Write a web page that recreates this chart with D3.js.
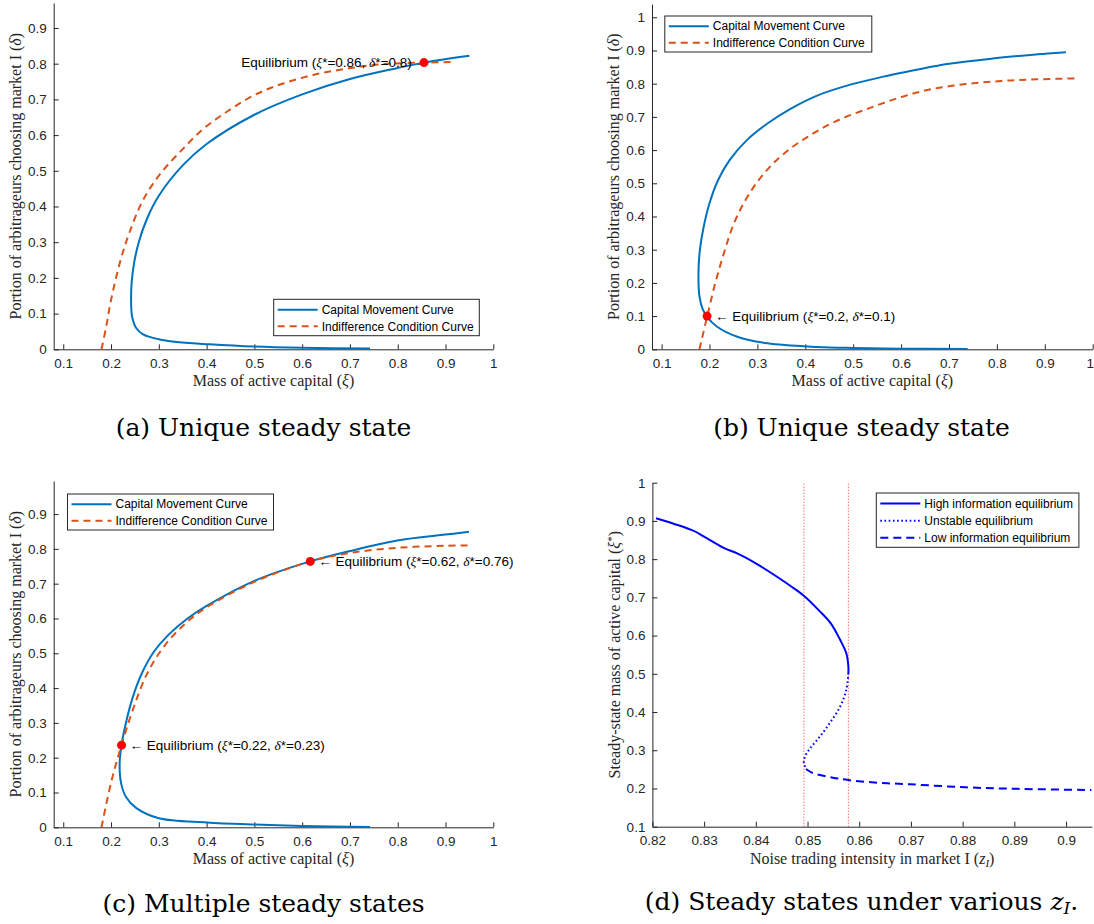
<!DOCTYPE html>
<html>
<head>
<meta charset="UTF-8">
<title>steady states</title>
<script src="https://cdn.jsdelivr.net/npm/d3@7"></script>
<style>
  body { margin: 0; background: #fff; }
  svg { display: block; }
  .axis path, .axis line { stroke: #262626; }
  .axis .tick text { font-family: "Liberation Sans", Arial, sans-serif; font-size: 13.5px; fill: #262626; }
  .lab { font-family: "Liberation Serif", serif; font-size: 16px; fill: #262626; }
  .cap { font-family: "DejaVu Serif", serif; font-size: 25px; fill: #000; }
  .leg { font-family: "Liberation Sans", Arial, sans-serif; font-size: 12px; fill: #000; }
  .ann { font-family: "Liberation Sans", Arial, sans-serif; font-size: 13.5px; fill: #000; }
  .it { font-family: "Liberation Serif", serif; font-style: italic; }
</style>
</head>
<body>
<svg width="1094" height="924"></svg>
<script>
// ---- data ----
var xiTicks = [0.1, 0.2, 0.3, 0.4, 0.5, 0.6, 0.7, 0.8, 0.9, 1];
var deltaTicks = [0, 0.1, 0.2, 0.3, 0.4, 0.5, 0.6, 0.7, 0.8, 0.9];
var deltaTicksB = [0, 0.1, 0.2, 0.3, 0.4, 0.5, 0.6, 0.7, 0.8, 0.9, 1];
var zTicks = [0.82, 0.83, 0.84, 0.85, 0.86, 0.87, 0.88, 0.89, 0.9];
var xiStarTicks = [0.1, 0.2, 0.3, 0.4, 0.5, 0.6, 0.7, 0.8, 0.9, 1];

// (a)
var aCapXi    = [0.742, 0.600, 0.500, 0.406, 0.333, 0.300, 0.267, 0.253, 0.244, 0.242, 0.243, 0.248, 0.258, 0.275, 0.300, 0.350, 0.400, 0.500, 0.600, 0.700, 0.800, 0.855, 0.950];
var aCapDelta = [0.002, 0.004, 0.0075, 0.014, 0.021, 0.028, 0.042, 0.059, 0.092, 0.138, 0.185, 0.240, 0.300, 0.365, 0.430, 0.515, 0.575, 0.657, 0.714, 0.757, 0.788, 0.803, 0.822];
var aIndXi    = [0.180, 0.190, 0.200, 0.220, 0.238, 0.267, 0.304, 0.348, 0.391, 0.443, 0.494, 0.552, 0.625, 0.698, 0.771, 0.855, 0.917];
var aIndDelta = [0.000, 0.064, 0.138, 0.250, 0.325, 0.418, 0.493, 0.558, 0.615, 0.666, 0.708, 0.741, 0.769, 0.787, 0.799, 0.803, 0.805];
var aEqXi = [0.855], aEqDelta = [0.803];
var aEqText = [["0.86", "0.8"]];

// (b)
var bCapXi    = [0.739, 0.600, 0.500, 0.426, 0.321, 0.258, 0.216, 0.195, 0.186, 0.179, 0.177, 0.180, 0.188, 0.200, 0.218, 0.242, 0.278, 0.321, 0.370, 0.426, 0.496, 0.566, 0.601, 0.700, 0.800, 0.900, 0.944];
var bCapDelta = [0.001, 0.002, 0.004, 0.007, 0.018, 0.038, 0.068, 0.098, 0.120, 0.160, 0.229, 0.300, 0.370, 0.440, 0.510, 0.570, 0.630, 0.680, 0.725, 0.765, 0.798, 0.822, 0.833, 0.860, 0.877, 0.890, 0.895];
var bIndXi    = [0.179, 0.195, 0.212, 0.230, 0.251, 0.279, 0.314, 0.356, 0.405, 0.461, 0.531, 0.601, 0.662, 0.735, 0.808, 0.882, 0.970];
var bIndDelta = [0.000, 0.098, 0.199, 0.289, 0.379, 0.459, 0.530, 0.590, 0.640, 0.685, 0.725, 0.760, 0.783, 0.799, 0.808, 0.813, 0.816];
var bEqXi = [0.195], bEqDelta = [0.1];
var bEqText = [["0.2", "0.1"]];

// (c)
var cCapXi    = [0.742, 0.600, 0.500, 0.400, 0.300, 0.253, 0.231, 0.221, 0.218, 0.222, 0.231, 0.245, 0.265, 0.290, 0.320, 0.360, 0.400, 0.500, 0.617, 0.698, 0.799, 0.900, 0.949];
var cCapDelta = [0.001, 0.004, 0.008, 0.014, 0.026, 0.055, 0.088, 0.127, 0.184, 0.237, 0.299, 0.372, 0.444, 0.505, 0.553, 0.600, 0.636, 0.708, 0.764, 0.793, 0.824, 0.841, 0.849];
var cIndXi    = [0.180, 0.200, 0.222, 0.245, 0.275, 0.311, 0.355, 0.400, 0.500, 0.617, 0.698, 0.799, 0.900, 0.954];
var cIndDelta = [0.000, 0.128, 0.237, 0.335, 0.440, 0.520, 0.585, 0.632, 0.705, 0.764, 0.788, 0.803, 0.809, 0.810];
var cEqXi = [0.222, 0.617], cEqDelta = [0.236, 0.764];
var cEqText = [["0.22", "0.23"], ["0.62", "0.76"]];

// (d)
var dHighZ  = [0.8207, 0.8280, 0.8300, 0.8340, 0.8364, 0.8400, 0.8441, 0.8468, 0.8494, 0.8522, 0.8545, 0.8563, 0.8575, 0.8579, 0.8579];
var dHighXi = [0.907, 0.874, 0.859, 0.828, 0.815, 0.789, 0.754, 0.729, 0.703, 0.666, 0.632, 0.589, 0.554, 0.520, 0.502];
var dUnstZ  = [0.8579, 0.8575, 0.8563, 0.8543, 0.8524, 0.8505, 0.8495, 0.8493, 0.8497];
var dUnstXi = [0.502, 0.458, 0.414, 0.371, 0.336, 0.305, 0.283, 0.266, 0.253];
var dLowZ   = [0.8497, 0.8511, 0.8547, 0.8579, 0.8637, 0.8698, 0.8806, 0.8907, 0.9049];
var dLowXi  = [0.251, 0.240, 0.229, 0.222, 0.215, 0.211, 0.203, 0.199, 0.196];
var dBounds = [0.8493, 0.8579];

var capLabel = "Capital Movement Curve", indLabel = "Indifference Condition Curve";
var dLabels = ["High information equilibrium", "Unstable equilibrium", "Low information equilibrium"];

// ---- drawing ----
var svg = d3.select("svg");
var BLUE = "#0072BD", RED = "#D95319", PURE = "#0000FF";
var fmt = function(d){ return d3.format("~g")(d); };
var zip = function(a, b){ return a.map(function(v, i){ return [v, b[i]]; }); };

function axes(g, x, y, xt, yt) {
  var ax = g.append("g").attr("class", "axis")
    .attr("transform", "translate(0," + y.range()[0] + ")")
    .call(d3.axisBottom(x).tickValues(xt).tickFormat(fmt).tickSizeInner(-5).tickSizeOuter(0).tickPadding(9));
  g.append("g").attr("class", "axis")
    .attr("transform", "translate(" + x.range()[0] + ",0)")
    .call(d3.axisLeft(y).tickValues(yt).tickFormat(fmt).tickSizeInner(-5).tickSizeOuter(0).tickPadding(7));
  return ax;
}

function curve(g, x, y, pts, color, dash, w) {
  g.append("path")
    .datum(pts)
    .attr("fill", "none")
    .attr("stroke", color)
    .attr("stroke-width", w || 2)
    .attr("stroke-dasharray", dash)
    .attr("d", d3.line().x(function(d){ return x(d[0]); }).y(function(d){ return y(d[1]); })
      .curve(d3.curveCatmullRom.alpha(0.5)));
}

function legend(g, x0, y0, w, items, step) {
  var h = items.length * step + 3;
  g.append("rect").attr("x", x0).attr("y", y0).attr("width", w).attr("height", h)
    .attr("fill", "#fff").attr("stroke", "#262626").attr("stroke-width", 1);
  items.forEach(function(it, i) {
    var cy = y0 + 2 + step * (i + 0.5);
    g.append("line").attr("x1", x0 + 4).attr("x2", x0 + 44).attr("y1", cy).attr("y2", cy)
      .attr("stroke", it.color).attr("stroke-width", 2).attr("stroke-dasharray", it.dash);
    g.append("text").attr("class", "leg").attr("x", x0 + 48).attr("y", cy).attr("dy", "0.35em").text(it.label);
  });
}

function eqText(t, xs, ds, arrowLeft) {
  if (arrowLeft) t.append("tspan").text("\u2190 ");
  t.append("tspan").text("Equilibrium (");
  t.append("tspan").attr("class", "it").text("\u03BE");
  t.append("tspan").text("*=" + xs + ", ");
  t.append("tspan").attr("class", "it").text("\u03B4");
  t.append("tspan").text("*=" + ds + ")");
  if (!arrowLeft) t.append("tspan").text(" \u2192");
}

function equilibria(g, x, y, xi, de, txt, arrowLeft) {
  xi.forEach(function(v, i) {
    var t = g.append("text").attr("class", "ann")
      .attr("x", arrowLeft ? x(v) + 8 : x(v) + 5)
      .attr("y", y(de[i])).attr("dy", "0.35em")
      .attr("text-anchor", arrowLeft ? "start" : "end");
    eqText(t, txt[i][0], txt[i][1], arrowLeft);
  });
  g.selectAll(null).data(xi).enter().append("circle")
    .attr("cx", function(d){ return x(d); })
    .attr("cy", function(d, i){ return y(de[i]); })
    .attr("r", 4.5).attr("fill", "#FF0000");
}

function xLabel(g, x, yPos) {
  return g.append("text").attr("class", "lab").attr("text-anchor", "middle")
    .attr("x", (x.range()[0] + x.range()[1]) / 2).attr("y", yPos);
}
function yLabel(g, y, xPos) {
  var cy = (y.range()[0] + y.range()[1]) / 2;
  return g.append("text").attr("class", "lab").attr("text-anchor", "middle")
    .attr("transform", "translate(" + xPos + "," + cy + ") rotate(-90)");
}
function deltaLabels(g, x, y, xl, yl) {
  var t = xLabel(g, x, yl);
  t.append("tspan").text("Mass of active capital (");
  t.append("tspan").attr("font-style", "italic").text("\u03BE");
  t.append("tspan").text(")");
  var s = yLabel(g, y, xl);
  s.append("tspan").text("Portion of arbitrageurs choosing market I (");
  s.append("tspan").attr("font-style", "italic").text("\u03B4");
  s.append("tspan").text(")");
}
function caption(cx, cy, txt) {
  return svg.append("text").attr("class", "cap").attr("text-anchor", "middle")
    .attr("x", cx).attr("y", cy).text(txt);
}

var capItems = [{label: capLabel, color: BLUE, dash: null}, {label: indLabel, color: RED, dash: "7,5"}];

// panel (a)
var xa = d3.scaleLinear().domain([0.08, 1]).range([53.7, 493.3]);
var ya = d3.scaleLinear().domain([0, 0.97]).range([349.3, 3]);
var ga = svg.append("g");
axes(ga, xa, ya, xiTicks, deltaTicks);
curve(ga, xa, ya, zip(aCapXi, aCapDelta), BLUE, null);
curve(ga, xa, ya, zip(aIndXi, aIndDelta), RED, "7,5");
legend(ga, 273.7, 299.3, 205.6, capItems, 16.7);
equilibria(ga, xa, ya, aEqXi, aEqDelta, aEqText, false);
deltaLabels(ga, xa, ya, 21, 386);
caption(263.5, 436, "(a) Unique steady state");

// panel (b)
var xb = d3.scaleLinear().domain([0.08, 1]).range([652.0, 1092.7]);
var yb = d3.scaleLinear().domain([0, 1.04]).range([349.3, 4]);
var gb = svg.append("g");
var axb = axes(gb, xb, yb, xiTicks, deltaTicksB);
axb.selectAll(".tick:last-of-type text").attr("dx", "-3");
curve(gb, xb, yb, zip(bCapXi, bCapDelta), BLUE, null);
curve(gb, xb, yb, zip(bIndXi, bIndDelta), RED, "7,5");
legend(gb, 664.8, 16, 207, capItems, 16.5);
equilibria(gb, xb, yb, bEqXi, bEqDelta, bEqText, true);
deltaLabels(gb, xb, yb, 619, 386);
caption(861.5, 436, "(b) Unique steady state");

// panel (c)
var xc = d3.scaleLinear().domain([0.08, 1]).range([53.7, 493.3]);
var yc = d3.scaleLinear().domain([0, 0.995]).range([827.3, 481]);
var gc = svg.append("g");
axes(gc, xc, yc, xiTicks, deltaTicks);
curve(gc, xc, yc, zip(cCapXi, cCapDelta), BLUE, null);
curve(gc, xc, yc, zip(cIndXi, cIndDelta), RED, "7,5");
legend(gc, 67.5, 494, 206, capItems, 16.5);
equilibria(gc, xc, yc, cEqXi, cEqDelta, cEqText, true);
deltaLabels(gc, xc, yc, 21, 864);
caption(263.5, 912, "(c) Multiple steady states");

// panel (d)
var xd = d3.scaleLinear().domain([0.82, 0.905]).range([652.4, 1091.9]);
var yd = d3.scaleLinear().domain([0.1, 1]).range([826.7, 482.7]);
var gd = svg.append("g");
axes(gd, xd, yd, zTicks, xiStarTicks);
gd.selectAll(null).data(dBounds).enter().append("line")
  .attr("x1", function(d){ return xd(d); }).attr("x2", function(d){ return xd(d); })
  .attr("y1", yd(0.1)).attr("y2", yd(1))
  .attr("stroke", "#FF3333").attr("stroke-width", 1).attr("stroke-dasharray", "1,2");
curve(gd, xd, yd, zip(dHighZ, dHighXi), PURE, null);
curve(gd, xd, yd, zip(dUnstZ, dUnstXi), PURE, "1.6,2.6");
curve(gd, xd, yd, zip(dLowZ, dLowXi), PURE, "8,5");
legend(gd, 876.3, 493, 202.6, [
  {label: dLabels[0], color: PURE, dash: null},
  {label: dLabels[1], color: PURE, dash: "1.6,2.6"},
  {label: dLabels[2], color: PURE, dash: "8,5"}], 17.1);
var tdx = xLabel(gd, xd, 864);
tdx.append("tspan").text("Noise trading intensity in market I (");
tdx.append("tspan").attr("font-style", "italic").text("z");
tdx.append("tspan").attr("font-style", "italic").attr("font-size", "11px").attr("dy", "3").text("I");
tdx.append("tspan").attr("dy", "-3").text(")");
var tdy = yLabel(gd, yd, 620);
tdy.append("tspan").text("Steady-state mass of active capital (");
tdy.append("tspan").attr("font-style", "italic").text("\u03BE");
tdy.append("tspan").attr("font-size", "11px").attr("dy", "-5").text("*");
tdy.append("tspan").attr("dy", "5").text(")");
var cd = caption(861.5, 910, "(d) Steady states under various ");
cd.append("tspan").attr("font-style", "italic").text("z");
cd.append("tspan").attr("font-style", "italic").attr("font-size", "17px").attr("dy", "4").text("I");
cd.append("tspan").attr("dy", "-4").text(".");
</script>
</body>
</html>
